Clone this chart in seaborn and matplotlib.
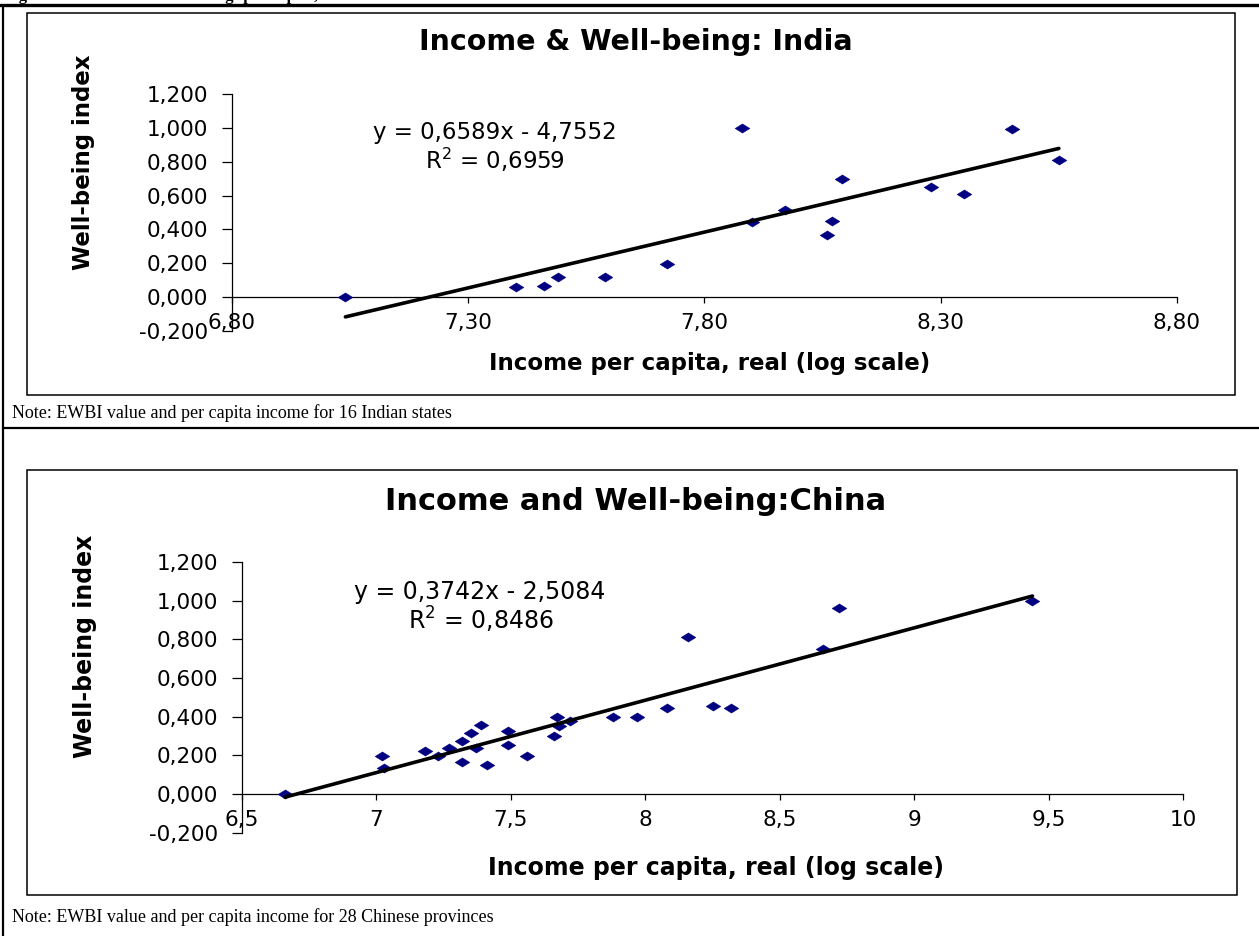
import numpy as np
import pandas as pd
import matplotlib
matplotlib.use("Agg")
import matplotlib.pyplot as plt
import seaborn as sns
from matplotlib.patches import Rectangle
from matplotlib.lines import Line2D
from matplotlib.ticker import FixedLocator, FuncFormatter

# India, 16 states (log income, EWBI)
india_income = [7.04, 7.40, 7.46, 7.49, 7.59, 7.72, 7.88, 7.90,
                7.97, 8.06, 8.07, 8.09, 8.28, 8.35, 8.45, 8.55]
india_ewbi = [0.000, 0.057, 0.065, 0.120, 0.120, 0.193, 0.998, 0.442,
              0.515, 0.369, 0.451, 0.696, 0.649, 0.611, 0.992, 0.809]
india_slope, india_icpt = 0.6589, -4.7552
india_eq = "y = 0,6589x - 4,7552"
india_r2 = "R$^2$ = 0,6959"
india_xticks = [6.80, 7.30, 7.80, 8.30, 8.80]

# China, 28 provinces
china_income = [6.66, 7.02, 7.03, 7.18, 7.23, 7.27, 7.32, 7.32, 7.35, 7.37,
                7.39, 7.41, 7.49, 7.49, 7.56, 7.67, 7.68, 7.66, 7.72, 7.88,
                7.97, 8.08, 8.16, 8.25, 8.32, 8.66, 8.72, 9.44]
china_ewbi = [0.000, 0.198, 0.133, 0.222, 0.198, 0.236, 0.276, 0.167, 0.315, 0.238,
              0.358, 0.150, 0.324, 0.253, 0.198, 0.396, 0.350, 0.301, 0.376, 0.398,
              0.398, 0.446, 0.813, 0.455, 0.444, 0.751, 0.960, 0.999]
china_slope, china_icpt = 0.3742, -2.5084
china_eq = "y = 0,3742x - 2,5084"
china_r2 = "R$^2$ = 0,8486"
china_xticks = [6.5, 7, 7.5, 8, 8.5, 9, 9.5, 10]

yticks = [-0.2, 0.0, 0.2, 0.4, 0.6, 0.8, 1.0, 1.2]

sns.set_style("white")
plt.rcParams['font.family'] = ['DejaVu Sans']
plt.rcParams['text.color'] = 'black'
plt.rcParams['axes.labelcolor'] = 'black'

W, H = 1259, 936
fig = plt.figure(figsize=(W / 100, H / 100), dpi=100)

diamond = [(-1, 0), (0, 0.62), (1, 0), (0, -0.62), (-1, 0)]


def px_box(x0, y0, x1, y1):
    # pixel box (top-left origin) -> figure fraction rect
    return [x0 / W, 1 - y1 / H, (x1 - x0) / W, (y1 - y0) / H]


def draw_panel(ax, x, y, slope, icpt, xticks, xfmt):
    df = pd.DataFrame({"income": x, "ewbi": y})
    sns.scatterplot(data=df, x="income", y="ewbi", ax=ax, marker=diamond,
                    s=115, color="#000080", edgecolor="#000080", linewidth=0.3,
                    zorder=3)
    xs = np.array([min(x), max(x)])
    fit = pd.DataFrame({"income": xs, "ewbi": slope * xs + icpt})
    sns.lineplot(data=fit, x="income", y="ewbi", ax=ax, color="black",
                 linewidth=2.6, zorder=4)
    ax.set_xlim(xticks[0], xticks[-1])
    ax.set_ylim(-0.2, 1.2)
    ax.xaxis.set_major_locator(FixedLocator(xticks))
    ax.yaxis.set_major_locator(FixedLocator(yticks))
    ax.xaxis.set_major_formatter(FuncFormatter(xfmt))
    ax.yaxis.set_major_formatter(FuncFormatter(lambda v, p: ("%.3f" % v).replace(".", ",")))
    for s in ["top", "right"]:
        ax.spines[s].set_visible(False)
    ax.spines["bottom"].set_position(("data", 0))
    for s in ["bottom", "left"]:
        ax.spines[s].set_color("black")
        ax.spines[s].set_linewidth(0.9)
    ax.tick_params(axis="x", direction="out", length=4.5, width=0.9, pad=7,
                   labelsize=15.5, colors="black", bottom=True)
    ax.tick_params(axis="y", direction="out", length=7, width=0.9, pad=10,
                   labelsize=15.5, colors="black", left=True)
    ax.set_facecolor("white")
    ax.patch.set_alpha(0)


# India panel
ax1 = fig.add_axes(px_box(232, 94, 1177, 331))
draw_panel(ax1, india_income, india_ewbi, india_slope, india_icpt, india_xticks,
           lambda v, p: ("%.2f" % v).replace(".", ","))
ax1.set_xlabel("Income per capita, real (log scale)", fontsize=16.5, fontweight="bold")
ax1.set_ylabel("Well-being index", fontsize=16.5, fontweight="bold")
ax1.xaxis.set_label_coords((710 - 232) / 945, (331 - 352) / 237)
ax1.yaxis.set_label_coords((95 - 232) / 945, (331 - 162) / 237)

# China panel
ax2 = fig.add_axes(px_box(242, 562, 1183, 832.7))
draw_panel(ax2, china_income, china_ewbi, china_slope, china_icpt, china_xticks,
           lambda v, p: ("%g" % v).replace(".", ","))
ax2.set_xlabel("Income per capita, real (log scale)", fontsize=17, fontweight="bold")
ax2.set_ylabel("Well-being index", fontsize=17, fontweight="bold")
ax2.xaxis.set_label_coords((716 - 242) / 941, (832.7 - 856) / 270.7)
ax2.yaxis.set_label_coords((97 - 242) / 941, (832.7 - 646) / 270.7)

# titles and trend-line equations
fig.text(636 / W, 1 - 42 / H, "Income & Well-being: India", ha="center", va="center",
         fontsize=20.5, fontweight="bold")
fig.text(636 / W, 1 - 501 / H, "Income and Well-being:China", ha="center", va="center",
         fontsize=22, fontweight="bold")
fig.text(495 / W, 1 - 133 / H, india_eq, ha="center", va="center", fontsize=16.5)
fig.text(495 / W, 1 - 160 / H, india_r2, ha="center", va="center", fontsize=16.5)
fig.text(480 / W, 1 - 592 / H, china_eq, ha="center", va="center", fontsize=17)
fig.text(481 / W, 1 - 620 / H, china_r2, ha="center", va="center", fontsize=17)

# chart frames
for box in [(27, 13, 1235, 395), (27, 470, 1237, 895)]:
    r = px_box(*box)
    fig.add_artist(Rectangle((r[0], r[1]), r[2], r[3], transform=fig.transFigure,
                             fill=False, edgecolor="black", linewidth=1.1))

# table rules of the document page
fig.add_artist(Line2D([0, 1], [1 - 5 / H, 1 - 5 / H], transform=fig.transFigure,
                      color="black", linewidth=2.4))
fig.add_artist(Line2D([3 / W, 3 / W], [0, 1 - 5 / H], transform=fig.transFigure,
                      color="black", linewidth=1.6))
fig.add_artist(Line2D([3 / W, 1], [1 - 428 / H, 1 - 428 / H], transform=fig.transFigure,
                      color="black", linewidth=1.6))

# notes
serif = ["Liberation Serif", "DejaVu Serif"]
fig.text(12 / W, 1 - 413 / H, "Note: EWBI value and per capita income for 16 Indian states",
         ha="left", va="center", fontsize=13, family=serif)
fig.text(12 / W, 1 - 917 / H, "Note: EWBI value and per capita income for 28 Chinese provinces",
         ha="left", va="center", fontsize=13, family=serif)

# caption line, cut off by the page crop (only descenders show)
fig.text(4 / W, 1 + 0.5 / H, "Figure 2: Income and well-being: per capita, India and China",
         ha="left", va="baseline", fontsize=12, fontweight="bold", family=serif)

fig.savefig("out.png", dpi=100, facecolor="white")
